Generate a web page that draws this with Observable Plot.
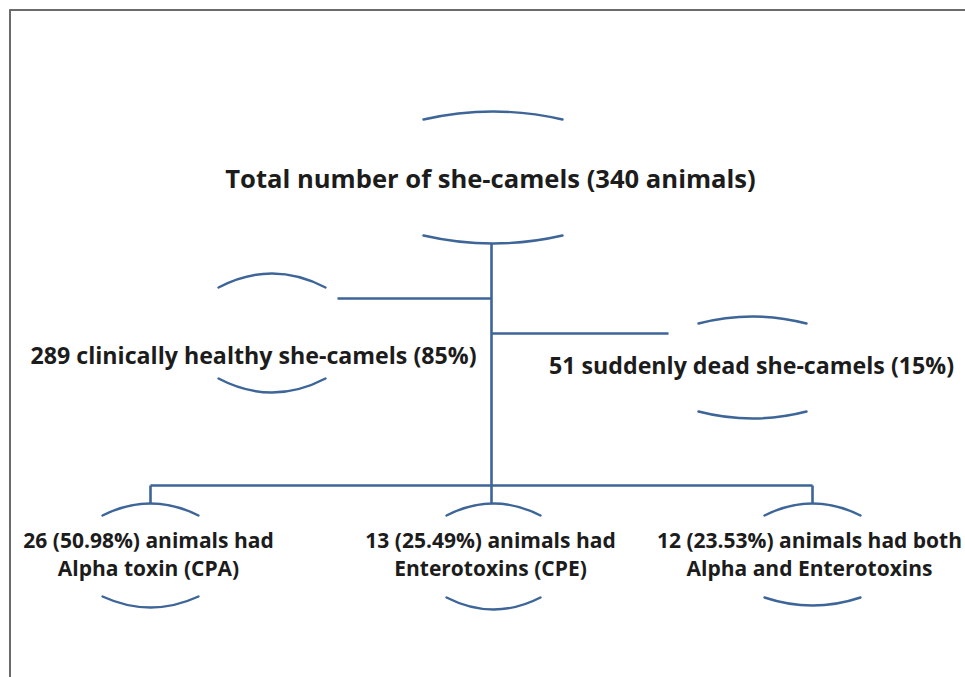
<!DOCTYPE html>
<html>
<head>
<meta charset="utf-8">
<script src="https://cdn.jsdelivr.net/npm/d3@7"></script>
<script src="https://cdn.jsdelivr.net/npm/@observablehq/plot@0.6"></script>
<style>
  html, body { margin: 0; padding: 0; background: #fff; }
  #chart { width: 965px; height: 677px; overflow: hidden; }
</style>
</head>
<body>
<div id="chart"></div>
<script>
// ---- Content (labels) ----
const rootLabels = ["Total number of she-camels (340 animals)"];
const groupLabels = ["289 clinically healthy she-camels (85%)", "51 suddenly dead she-camels (15%)"];
const toxinLine1 = ["26 (50.98%) animals had", "13 (25.49%) animals had", "12 (23.53%) animals had both"];
const toxinLine2 = ["Alpha toxin (CPA)", "Enterotoxins (CPE)", "Alpha and Enterotoxins"];

// ---- Layout (diagram coordinates, px) ----
const rootPos = [{x: 490, y: 179}];
const groupPos = [{x: 253, y: 356}, {x: 751, y: 366}];
const toxinX = [148, 490, 809];
const toxinY1 = 541, toxinY2 = 569;

// brackets: centre x, half width, top arc (ends, apex), bottom arc (ends, apex)
const brackets = [
  {cx: 492.5, w: 69.5, tEnd: 119, tApex: 111, bEnd: 235, bApex: 243},
  {cx: 271.5, w: 53.5, tEnd: 287, tApex: 273, bEnd: 378, bApex: 392},
  {cx: 752,   w: 54,   tEnd: 323, tApex: 316, bEnd: 411, bApex: 418},
  {cx: 150,   w: 48,   tEnd: 515, tApex: 503, bEnd: 596, bApex: 607},
  {cx: 493,   w: 47,   tEnd: 515, tApex: 503, bEnd: 597, bApex: 609},
  {cx: 812,   w: 48,   tEnd: 515, tApex: 503, bEnd: 597, bApex: 605}
];

// connectors
const connectors = [
  {x1: 491, y1: 243, x2: 491, y2: 503},
  {x1: 337, y1: 298, x2: 491, y2: 298},
  {x1: 491, y1: 333, x2: 668, y2: 333},
  {x1: 150, y1: 485, x2: 812, y2: 485},
  {x1: 150, y1: 485, x2: 150, y2: 503},
  {x1: 812, y1: 485, x2: 812, y2: 503}
];

// arcs: end, apex, end for each bracket side
const arcs = [];
brackets.forEach((b, i) => {
  arcs.push({id: `t${i}`, x: b.cx - b.w, y: b.tEnd});
  arcs.push({id: `t${i}`, x: b.cx, y: b.tApex});
  arcs.push({id: `t${i}`, x: b.cx + b.w, y: b.tEnd});
  arcs.push({id: `b${i}`, x: b.cx - b.w, y: b.bEnd});
  arcs.push({id: `b${i}`, x: b.cx, y: b.bApex});
  arcs.push({id: `b${i}`, x: b.cx + b.w, y: b.bEnd});
});

// custom curve: quadratic Bézier through the three points (end, apex, end)
function arcCurve(context) {
  let pts = [];
  return {
    areaStart() {}, areaEnd() {},
    lineStart() { pts = []; },
    point(x, y) { pts.push([+x, +y]); },
    lineEnd() {
      if (pts.length < 3) return;
      const [p0, p1, p2] = pts;
      const cx = 2 * p1[0] - (p0[0] + p2[0]) / 2;
      const cy = 2 * p1[1] - (p0[1] + p2[1]) / 2;
      context.moveTo(p0[0], p0[1]);
      context.quadraticCurveTo(cx, cy, p2[0], p2[1]);
    }
  };
}

const rootData = rootLabels.map((t, i) => ({text: t, ...rootPos[i]}));
const groupData = groupLabels.map((t, i) => ({text: t, ...groupPos[i]}));
const toxinData = toxinLine1.map((t, i) => ({text: t, x: toxinX[i], y: toxinY1}))
  .concat(toxinLine2.map((t, i) => ({text: t, x: toxinX[i], y: toxinY2})));

const blue = "#3d6598";
const ink = "#1c1c1c";
const font = "'Open Sans', Lato, sans-serif";

const chart = Plot.plot({
  width: 965,
  height: 677,
  margin: 0,
  style: {background: "#fff", fontFamily: font},
  x: {domain: [0, 965], range: [0, 965], axis: null},
  y: {domain: [0, 677], range: [0, 677], axis: null},
  marks: [
    // page frame
    Plot.ruleY([9.5], {x1: 9.5, x2: 965, stroke: "#6b6b6b", strokeWidth: 2}),
    Plot.ruleX([9.5], {y1: 9.5, y2: 677, stroke: "#6b6b6b", strokeWidth: 2}),
    Plot.link(connectors, {x1: "x1", y1: "y1", x2: "x2", y2: "y2", stroke: blue, strokeWidth: 2.6}),
    Plot.line(arcs, {x: "x", y: "y", z: "id", curve: arcCurve, stroke: blue, strokeWidth: 2.4}),
    Plot.text(rootData, {x: "x", y: "y", text: "text", fontSize: 25.6, fontWeight: "bold", fill: ink, fontFamily: font}),
    Plot.text(groupData, {x: "x", y: "y", text: "text", fontSize: 23.2, fontWeight: "bold", fill: ink, fontFamily: font}),
    Plot.text(toxinData, {x: "x", y: "y", text: "text", fontSize: 21, fontWeight: "bold", fill: ink, fontFamily: font})
  ]
});
document.getElementById("chart").appendChild(chart);
</script>
</body>
</html>
